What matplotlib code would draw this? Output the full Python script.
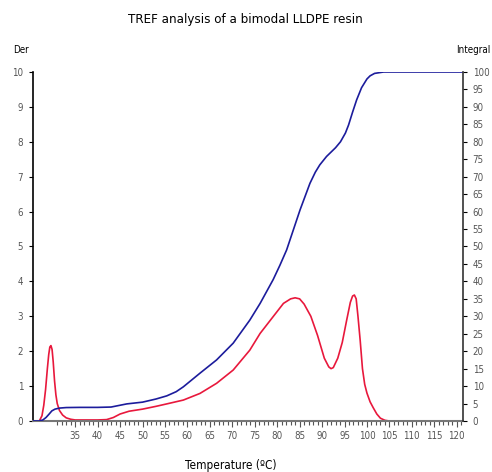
import numpy as np
import matplotlib.pyplot as plt
from matplotlib.ticker import FixedLocator

# derivative curve (left axis)
der_t = [25.6, 27.0, 27.6, 28.0, 28.4, 28.8, 29.1, 29.35, 29.6, 29.85, 30.1, 30.4,
         30.7, 31.0, 31.5, 32.2, 33.0, 34.0, 35.0, 40.0, 42.0, 43.5, 45.0, 47.0,
         50.0, 53.0, 55.4, 59.1, 62.8, 66.5, 70.2, 73.9, 76.2, 79.1, 81.4, 83.0,
         84.0, 85.0, 86.0, 87.5, 89.0, 90.5, 91.5, 92.0, 92.5, 93.5, 94.5, 95.5,
         96.3, 96.8, 97.2, 97.6, 98.0, 98.5, 99.0, 99.5, 100.0, 100.7, 101.4, 102.2,
         103.0, 104.0, 105.0, 121.4]
der_v = [0.0, 0.0, 0.15, 0.45, 0.9, 1.5, 1.9, 2.12, 2.16, 2.05, 1.7, 1.15,
         0.75, 0.5, 0.3, 0.17, 0.09, 0.05, 0.03, 0.03, 0.04, 0.1, 0.2, 0.28,
         0.34, 0.42, 0.49, 0.6, 0.79, 1.08, 1.46, 2.03, 2.51, 2.99, 3.37, 3.5,
         3.53, 3.5, 3.35, 3.0, 2.45, 1.8, 1.55, 1.5, 1.53, 1.8, 2.25, 2.9,
         3.4, 3.58, 3.61, 3.5, 3.0, 2.3, 1.5, 1.05, 0.8, 0.55, 0.38, 0.2,
         0.08, 0.02, 0.0, 0.0]

# integral curve (right axis)
int_t = [25.6, 27.0, 27.8, 28.5, 29.2, 29.8, 30.5, 31.5, 33.0, 36.0, 40.0, 43.0,
         46.5, 50.0, 53.0, 55.4, 57.5, 59.1, 62.8, 66.5, 70.2, 73.9, 76.2, 79.1,
         80.6, 82.1, 85.1, 87.3, 88.5, 89.5, 91.0, 93.0, 94.1, 95.2, 95.9, 96.8,
         97.7, 98.8, 100.0, 100.7, 101.7, 103.7, 121.4]
int_v = [0.0, 0.0, 0.3, 1.0, 2.0, 2.9, 3.4, 3.7, 3.85, 3.9, 3.9, 4.0,
         4.9, 5.4, 6.3, 7.2, 8.4, 9.8, 13.7, 17.5, 22.3, 28.9, 33.7, 40.5,
         44.6, 49.0, 60.5, 68.1, 71.3, 73.4, 75.8, 78.3, 80.0, 82.5, 84.8, 88.5,
         92.0, 95.5, 98.0, 98.9, 99.6, 100.0, 100.0]

der_ticks = list(range(0, 11))
int_ticks = list(range(0, 101, 5))
t_ticks = list(range(35, 121, 5))

red = '#e8183c'
blue = '#1c1c9c'
tick_col = '#555555'

fig = plt.figure(figsize=(4.92, 4.72), dpi=100)
ax = fig.add_axes([33 / 492, 1 - 421 / 472, 430 / 492, 349 / 472])
ax2 = ax.twinx()

ax.plot(der_t, der_v, color=red, lw=1.2, solid_joinstyle='round')
ax2.plot(int_t, int_v, color=blue, lw=1.2, solid_joinstyle='round')

ax.set_xlim(25.6, 121.4)
ax.set_ylim(0, 10)
ax2.set_ylim(0, 100)

ax.xaxis.set_major_locator(FixedLocator(t_ticks))
ax.xaxis.set_minor_locator(FixedLocator(list(range(31, 122))))
ax.set_yticks(der_ticks)
ax2.set_yticks(int_ticks)

ax.spines['top'].set_visible(False)
ax2.spines['top'].set_visible(False)
ax.spines['right'].set_visible(False)
ax2.spines['left'].set_visible(False)
ax2.spines['bottom'].set_visible(False)
ax.spines['bottom'].set_color('#777777')
ax.spines['bottom'].set_linewidth(1.5)
ax.spines['left'].set_color('black')
ax.spines['left'].set_linewidth(1.2)
ax2.spines['right'].set_color('#333333')
ax2.spines['right'].set_linewidth(1.2)

ax.tick_params(axis='x', which='major', length=4, width=0.8, color='#555555',
               labelsize=7, labelcolor=tick_col, pad=3)
ax.tick_params(axis='x', which='minor', length=3, width=0.8, color='#555555')
ax.tick_params(axis='y', length=3, width=0.8, labelsize=7, labelcolor=tick_col, pad=4)
ax2.tick_params(axis='y', length=3, width=0.8, labelsize=7, labelcolor=tick_col, pad=4)
for lab in ax.get_xticklabels() + ax.get_yticklabels() + ax2.get_yticklabels():
    lab.set_family('DejaVu Sans')
    lab.set_stretch('condensed')

fig.text(245 / 492, 1 - 20 / 472, 'TREF analysis of a bimodal LLDPE resin',
         ha='center', va='center', fontsize=9.5, family='DejaVu Sans', stretch='condensed')
fig.text(13 / 492, 1 - 50 / 472, 'Der', ha='left', va='center', fontsize=7,
         family='DejaVu Sans', stretch='condensed')
fig.text(490 / 492, 1 - 50 / 472, 'Integral', ha='right', va='center', fontsize=7,
         family='DejaVu Sans', stretch='condensed')
fig.text(231 / 492, 1 - 465 / 472, 'Temperature (ºC)', ha='center', va='center',
         fontsize=8.5, family='DejaVu Sans', stretch='condensed')

fig.savefig('out.png', dpi=100)
